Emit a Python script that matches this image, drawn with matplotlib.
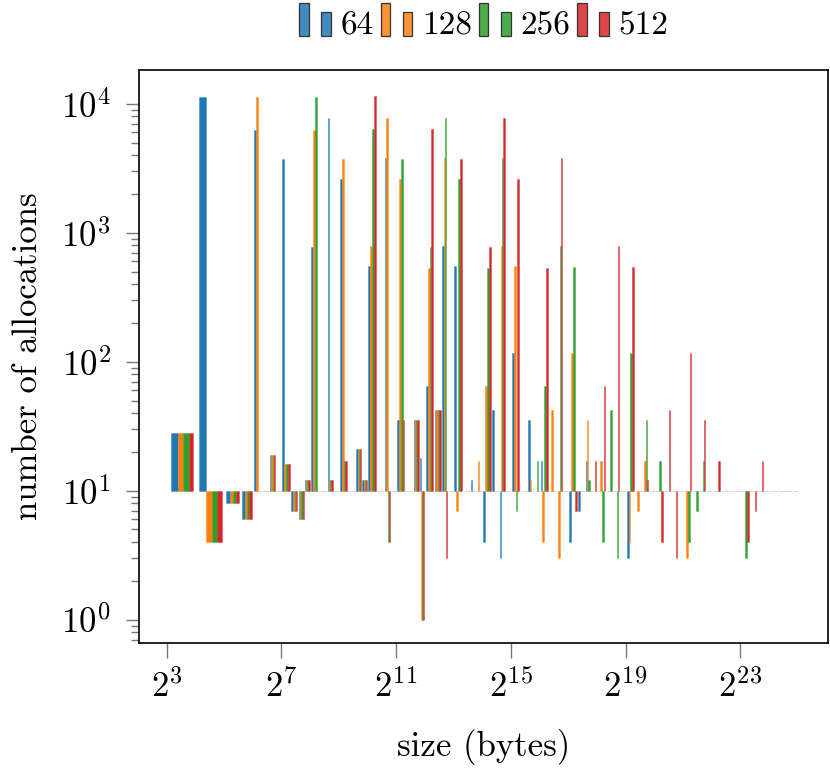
import numpy as np
import matplotlib
matplotlib.use('Agg')
import matplotlib.pyplot as plt
from matplotlib.patches import Rectangle
from matplotlib.legend_handler import HandlerBase
from matplotlib.colors import to_rgba
from matplotlib.ticker import NullLocator, LogLocator, FixedLocator

plt.rcParams['font.family'] = 'serif'
plt.rcParams['font.serif'] = ['cmr10']
plt.rcParams['mathtext.fontset'] = 'cm'
plt.rcParams['axes.unicode_minus'] = False
plt.rcParams['axes.formatter.use_mathtext'] = True

# size classes: 8, 16, 32, 48, then 4 classes per doubling from 64 up to 2^25
size_classes = [8, 16, 32, 48] + [2**k + i * 2**(k - 2) for k in range(6, 25) for i in range(4)] + [2**25]

labels = ['64', '128', '256', '512']
colors = ['#1f77b4', '#ff7f0e', '#2ca02c', '#d62728']

# counts per size class (0 = no allocations in that class)
n64 = [28, 11300, 8, 6,
       6300, 0, 19, 0,  3700, 7, 6, 12,  770, 0, 7700, 0,  2600, 0, 21, 12,
       550, 0, 3800, 0,  35, 0, 35, 18,  65, 42, 790, 0,  550, 0, 12, 0,
       4, 42, 3, 0,  116, 0, 35, 0,  17, 0, 0, 0,  4, 7, 17, 0,
       0, 0, 0, 0,  3, 0, 0, 0,  0, 0, 0, 0,  0, 0, 0, 0,
       0, 0, 0, 0,  0, 0, 0, 0,  0, 0, 0, 0]
n128 = [28, 4, 8, 6,
        11300, 0, 19, 0,  16, 7, 6, 12,  6300, 0, 12, 0,  3700, 0, 21, 12,
        790, 0, 7700, 0,  2600, 0, 35, 1,  530, 42, 3800, 0,  7, 0, 0, 17,
        65, 0, 790, 0,  550, 0, 12, 0,  4, 42, 3, 0,  116, 0, 35, 0,
        17, 0, 0, 0,  4, 7, 17, 0,  0, 0, 0, 0,  3, 0, 0, 0,
        0, 0, 0, 0,  0, 0, 0, 0,  0, 0, 0, 0]
n256 = [28, 4, 8, 6,
        0, 0, 19, 0,  16, 7, 6, 12,  11300, 0, 12, 0,  17, 0, 21, 12,
        6400, 0, 4, 0,  3700, 0, 35, 1,  780, 42, 7700, 0,  2600, 0, 0, 0,
        530, 0, 3800, 0,  7, 0, 0, 17,  65, 0, 790, 0,  540, 0, 12, 0,
        4, 42, 3, 0,  116, 0, 35, 0,  17, 0, 0, 0,  4, 7, 17, 0,
        0, 0, 0, 0,  3, 0, 0, 0,  0, 0, 0, 0]
n512 = [28, 4, 8, 6,
        0, 0, 19, 0,  16, 7, 6, 12,  0, 0, 12, 0,  17, 0, 21, 12,
        11400, 0, 4, 0,  35, 0, 35, 1,  6400, 42, 3, 0,  3700, 0, 0, 0,
        780, 0, 7800, 0,  2600, 0, 0, 0,  530, 0, 3800, 0,  7, 0, 0, 17,
        65, 0, 790, 0,  540, 0, 12, 0,  4, 42, 3, 0,  116, 0, 35, 0,
        17, 0, 0, 0,  4, 7, 17, 0,  0, 0, 0, 0]
series = [n64, n128, n256, n512]

base = 10
fs = 25

class TwoBars(HandlerBase):
    def create_artists(self, legend, orig_handle, xdescent, ydescent, width, height, fontsize, trans):
        fc = orig_handle.get_facecolor()
        w = 0.3 * width
        y0 = -ydescent - 0.15 * height
        r1 = Rectangle((-xdescent, y0), w, 1.55 * height, fc=fc, ec='#333333', lw=0.9, transform=trans)
        r2 = Rectangle((-xdescent + width - w, y0), w, 1.15 * height, fc=fc, ec='#333333', lw=0.9, transform=trans)
        return [r1, r2]

def main():
    fig = plt.figure(figsize=(8.3, 7.71), dpi=100)
    ax = fig.add_axes([0.1678, 0.1664, 0.8298, 0.7428])

    lo = np.array(size_classes[:-1], dtype=float)
    hi = np.array(size_classes[1:], dtype=float)
    w = (hi - lo) / 5

    handles = []
    for j, (vals, col, lab) in enumerate(zip(series, colors, labels)):
        vals = np.array(vals, dtype=float)
        heights = np.where(vals > 0, vals - base, 0)
        ax.bar(lo + w * (0.5 + j), heights, width=w, bottom=base, align='edge',
               color=col, edgecolor=to_rgba(col, 0.4), linewidth=0.6)
        handles.append(Rectangle((0, 0), 1, 1, fc=to_rgba(col, 0.85), label=lab))

    ax.set_xscale('log', base=2)
    ax.set_yscale('log')
    ax.set_xlim(2**2.045, 2**26.06)
    ax.set_ylim(0.662, 18280)

    xt = [2**k for k in range(3, 24, 4)]
    ax.xaxis.set_major_locator(FixedLocator(xt))
    ax.set_xticklabels([r'$2^{%d}$' % k for k in range(3, 24, 4)])
    ax.xaxis.set_minor_locator(NullLocator())
    ax.yaxis.set_major_locator(FixedLocator([1, 10, 100, 1000, 10000]))
    ax.set_yticklabels([r'$10^{%d}$' % k for k in range(5)])
    ax.yaxis.set_minor_locator(LogLocator(base=10, subs=np.arange(2, 10)))

    ax.tick_params(axis='both', which='major', labelsize=fs, color='#777777', width=1.0)
    ax.tick_params(axis='x', which='major', length=11, pad=8)
    ax.tick_params(axis='y', which='major', length=9.5, pad=11)
    ax.tick_params(axis='y', which='minor', length=6, color='#777777', width=1.0)
    for s in ax.spines.values():
        s.set_linewidth(1.2)

    ax.set_xlabel('size (bytes)', fontsize=fs)
    ax.xaxis.set_label_coords(0.5, -0.1816)
    ax.xaxis.label.set_va('center')
    ax.set_ylabel('number of allocations', fontsize=fs)
    ax.yaxis.set_label_coords(-0.161, 0.5)
    ax.yaxis.label.set_va('center')

    ax.legend(handles=handles, loc='lower center', bbox_to_anchor=(0.5, 1.052), ncol=4,
              frameon=False, fontsize=24, handler_map={Rectangle: TwoBars()},
              handlelength=0.95, handleheight=0.6, handletextpad=0.28, columnspacing=0.22,
              borderpad=0, borderaxespad=0)

    fig.savefig('out.png', dpi=100)

if __name__ == '__main__':
    main()
